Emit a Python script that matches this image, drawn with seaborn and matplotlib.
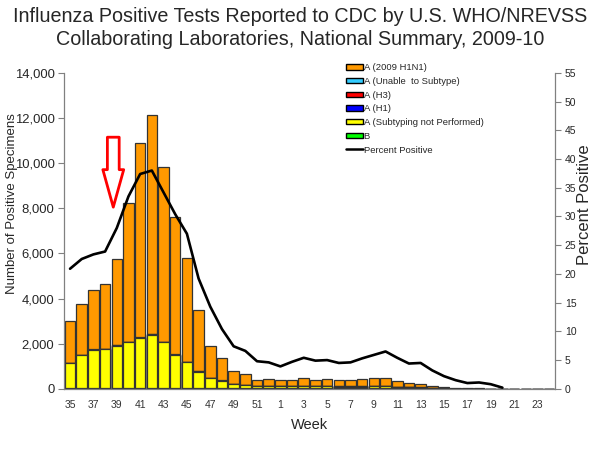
import numpy as np
import matplotlib
matplotlib.use('Agg')
import matplotlib.pyplot as plt
import seaborn as sns
from matplotlib.patches import Patch
from matplotlib.lines import Line2D

weeks = [str(w) for w in list(range(35, 53)) + list(range(1, 25))]

# specimens per week, by type (weeks 35-52, 1-24)
h1n1 = [1850, 2280, 2620, 2850, 3840, 6130, 8620, 9730, 7730, 6090, 4630, 2700,
        1400, 1000, 590, 500, 270, 300, 260, 290, 340, 290, 320, 270,
        300, 330, 350, 380, 260, 195, 175, 85, 65, 22, 15, 9, 6, 4,
        0, 0, 0, 0]
unable = [5, 5, 5, 5, 5, 5, 5, 5, 5, 5, 5, 5, 3, 3, 2, 2, 1, 1, 1, 1, 1, 1, 1, 1,
          1, 1, 1, 1, 1, 1, 1, 0, 0, 0, 0, 0, 0, 0, 0, 0, 0, 0]
h3 = [5, 5, 5, 5, 5, 5, 5, 5, 5, 5, 5, 5, 3, 3, 2, 2, 2, 2, 2, 2, 2, 2, 2, 2,
      2, 2, 2, 2, 2, 2, 2, 1, 1, 0, 0, 0, 0, 0, 0, 0, 0, 0]
h1 = [5, 5, 5, 5, 5, 5, 5, 5, 5, 5, 5, 5, 2, 2, 2, 2, 1, 1, 1, 1, 1, 1, 1, 1,
      1, 1, 1, 1, 1, 1, 1, 1, 1, 1, 0, 0, 0, 0, 0, 0, 0, 0]
not_subtyped = [1110, 1460, 1710, 1750, 1890, 2060, 2240, 2380, 2050, 1490, 1150, 740,
                450, 340, 190, 150, 100, 100, 80, 80, 90, 80, 80, 70,
                70, 70, 80, 80, 55, 40, 35, 20, 15, 8, 4, 4, 2, 0,
                0, 0, 0, 0]
b = [20, 20, 20, 20, 20, 20, 20, 20, 20, 20, 20, 20, 20, 20, 20, 20, 30, 30, 30, 30,
     30, 30, 30, 30, 30, 30, 30, 30, 30, 20, 20, 10, 5, 3, 2, 1, 1, 1, 0, 0, 0, 0]

# percent positive, weeks 35-52, 1-20
pct_positive = [20.9, 22.6, 23.4, 23.9, 28.0, 33.5, 37.4, 38.0, 34.2, 30.4, 27.0, 19.2,
                14.3, 10.4, 7.4, 6.6, 4.8, 4.6, 3.9, 4.7, 5.4, 4.9, 5.0, 4.5,
                4.6, 5.3, 5.9, 6.5, 5.4, 4.4, 4.5, 3.2, 2.2, 1.5, 1.0, 1.1, 0.8, 0.2]

series = [
    ('B', b, '#00FF00'),
    ('A (Subtyping not Performed)', not_subtyped, '#FFFF00'),
    ('A (H1)', h1, '#0000FF'),
    ('A (H3)', h3, '#FF0000'),
    ('A (Unable  to Subtype)', unable, '#33CCFF'),
    ('A (2009 H1N1)', h1n1, '#FF9900'),
]

sns.set_style('white')
plt.rcParams['font.family'] = ['Liberation Sans', 'DejaVu Sans']

fig = plt.figure(figsize=(6, 4.5), dpi=100)
ax = fig.add_axes([0.107, 0.136, 0.818, 0.702])

# stacked bars: draw cumulative totals from the top layer down
cum = np.zeros(len(weeks))
cums = []
for name, vals, col in series:
    cum = cum + np.array(vals)
    cums.append((name, cum.copy(), col))
for name, heights, col in reversed(cums):
    sns.barplot(x=weeks, y=heights, order=weeks, color=col, saturation=1, width=0.9,
                edgecolor='#333333', linewidth=0.9, errorbar=None, ax=ax)

ax2 = ax.twinx()
sns.lineplot(x=np.arange(len(pct_positive)), y=pct_positive, color='black',
             linewidth=1.9, ax=ax2)

n = len(weeks)
ax.set_xlim(-0.5, n - 0.5)
ax2.set_xlim(-0.5, n - 0.5)
ax.set_ylim(0, 14000)
ax2.set_ylim(0, 55)

ax.set_yticks(range(0, 14001, 2000))
ax.set_yticklabels([f'{v:,}' for v in range(0, 14001, 2000)])
ax2.set_yticks(range(0, 56, 5))

ax.set_xticks(np.arange(n))
ax.set_xticklabels([w if i % 2 == 0 else '' for i, w in enumerate(weeks)])
ax.set_xticks(np.arange(n + 1) - 0.5, minor=True)
ax.tick_params(axis='x', which='major', length=0, labelsize=7.5, pad=8,
               labelcolor='#333333')
ax.tick_params(axis='x', which='minor', length=4, color='#808080', width=0.8)
ax.tick_params(axis='y', left=True, length=4, color='#808080', labelsize=9.4, pad=3)
ax2.tick_params(axis='y', right=True, length=4, color='#808080', labelsize=7.5, pad=3)

for a in (ax, ax2):
    a.spines['top'].set_visible(False)
    for s in ('left', 'right', 'bottom'):
        a.spines[s].set_color('#808080')
        a.spines[s].set_linewidth(0.9)
ax.spines['right'].set_visible(False)
ax2.spines['left'].set_visible(False)
ax2.spines['bottom'].set_visible(False)

ax.set_xlabel('Week', fontsize=10.5, labelpad=6)
ax.set_ylabel('Number of Positive Specimens', fontsize=9.5, va='center')
ax.yaxis.set_label_coords(-0.106, 0.585)
ax2.set_ylabel('Percent Positive', fontsize=12, va='center')
ax2.yaxis.set_label_coords(1.06, 0.582)

fig.suptitle('Influenza Positive Tests Reported to CDC by U.S. WHO/NREVSS\n'
             'Collaborating Laboratories, National Summary, 2009-10',
             fontsize=14.2, y=0.985, linespacing=1.3)

# hollow red arrow
ax.annotate('', xy=(3.7, 8050), xytext=(3.7, 11150),
            arrowprops=dict(arrowstyle='simple,head_length=2.7,head_width=1.5,tail_width=0.85',
                            mutation_scale=10, fc='white', ec='red', lw=2,
                            shrinkA=0, shrinkB=0))

handles = [Patch(facecolor=c, edgecolor='black', linewidth=1) for _, _, c in reversed(series)]
labels = [nm for nm, _, _ in reversed(series)]
handles.append(Line2D([], [], color='black', linewidth=1.8))
labels.append('Percent Positive')
fig.legend(handles, labels, loc='upper left', bbox_to_anchor=(0.57, 0.868),
           frameon=False, fontsize=6.8, handlelength=1.8, handleheight=0.5,
           handletextpad=0.1, labelspacing=0.5, borderaxespad=0)

fig.savefig('out.png', dpi=100)
